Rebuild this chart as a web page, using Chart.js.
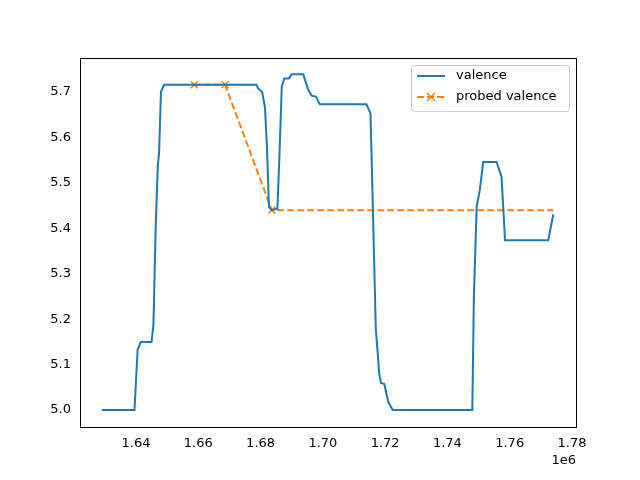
<!DOCTYPE html>
<html>
<head>
<meta charset="UTF-8">
<script src="https://cdn.jsdelivr.net/npm/chart.js"></script>
<style>
  body { margin: 0; background: white; }
</style>
</head>
<body>
<canvas id="c" width="640" height="480"></canvas>
<script>
// valence curve (x in units of 1e6)
const valenceX = [1.629, 1.6395, 1.6405, 1.6415, 1.645, 1.6456, 1.6463, 1.647, 1.6474, 1.648, 1.649,
  1.6787, 1.6792, 1.6805, 1.6814, 1.682, 1.6827, 1.6836, 1.6854, 1.686, 1.6868, 1.6876, 1.6891, 1.690,
  1.6937, 1.6953, 1.6964, 1.6978, 1.699, 1.714, 1.7153, 1.7162, 1.717, 1.7181, 1.7187, 1.7197, 1.721,
  1.7224, 1.748, 1.7485, 1.7494, 1.7504, 1.7515, 1.7558, 1.7574, 1.7585, 1.7724, 1.774];
const valenceY = [5.0, 5.0, 5.132, 5.15, 5.15, 5.19, 5.40, 5.54, 5.566, 5.70, 5.716,
  5.716, 5.708, 5.70, 5.667, 5.587, 5.447, 5.44, 5.443, 5.55, 5.712, 5.73, 5.73, 5.739,
  5.739, 5.705, 5.692, 5.69, 5.673, 5.673, 5.653, 5.404, 5.18, 5.08, 5.059, 5.058, 5.018,
  5.0, 5.0, 5.25, 5.447, 5.484, 5.546, 5.546, 5.513, 5.374, 5.374, 5.431];
const probedX = [1.6587, 1.6686, 1.6836, 1.774];
const probedY = [5.716, 5.716, 5.44, 5.44];
const xTicks = [1.64, 1.66, 1.68, 1.70, 1.72, 1.74, 1.76, 1.78];
const yTicks = [5.0, 5.1, 5.2, 5.3, 5.4, 5.5, 5.6, 5.7];

const font = { family: "DejaVu Sans", size: 13 };

const extras = {
  id: "extras",
  afterDraw(chart) {
    const ctx = chart.ctx;
    const a = chart.chartArea;
    ctx.save();
    // full axes frame
    ctx.strokeStyle = "#000";
    ctx.lineWidth = 1;
    ctx.strokeRect(Math.round(a.left) + 0.5, Math.round(a.top) + 0.5,
      Math.round(a.right - a.left), Math.round(a.bottom - a.top));
    ctx.font = "13px DejaVu Sans";
    ctx.fillStyle = "#000";
    ctx.textAlign = "right";
    ctx.textBaseline = "top";
    ctx.fillText("1e6", a.right, 454);
    // legend
    const lx = 411, ly = 65, lw = 158, lh = 46;
    ctx.fillStyle = "rgba(255,255,255,0.8)";
    ctx.strokeStyle = "#ccc";
    ctx.beginPath();
    ctx.roundRect(lx + 0.5, ly + 0.5, lw, lh, 3);
    ctx.fill(); ctx.stroke();
    ctx.lineWidth = 2;
    ctx.strokeStyle = "#1f77b4";
    ctx.beginPath(); ctx.moveTo(417, 76); ctx.lineTo(445, 76); ctx.stroke();
    ctx.strokeStyle = "#ff7f0e";
    ctx.setLineDash([7, 3]);
    ctx.beginPath(); ctx.moveTo(417, 97); ctx.lineTo(445, 97); ctx.stroke();
    ctx.setLineDash([]);
    ctx.lineWidth = 1.5;
    ctx.beginPath();
    ctx.moveTo(427, 93); ctx.lineTo(435, 101); ctx.moveTo(435, 93); ctx.lineTo(427, 101);
    ctx.stroke();
    ctx.fillStyle = "#000";
    ctx.textAlign = "left";
    ctx.textBaseline = "middle";
    ctx.fillText("valence", 456, 76);
    ctx.fillText("probed valence", 456, 97);
    ctx.restore();
  }
};

new Chart(document.getElementById("c"), {
  type: "line",
  data: {
    datasets: [
      {
        label: "valence",
        data: valenceX.map((x, i) => ({ x: x, y: valenceY[i] })),
        borderColor: "#1f77b4", borderWidth: 2, pointRadius: 0, tension: 0
      },
      {
        label: "probed valence",
        data: probedX.map((x, i) => ({ x: x, y: probedY[i] })),
        borderColor: "#ff7f0e", borderWidth: 2, borderDash: [7, 3],
        pointStyle: "crossRot", pointRadius: [5, 5, 5, 0], pointBorderWidth: 1.5,
        pointBorderColor: "#ff7f0e", tension: 0
      }
    ]
  },
  options: {
    responsive: false,
    animation: false,
    layout: { padding: { top: 58, right: 64, left: 0, bottom: 0 } },
    plugins: { legend: { display: false }, tooltip: { enabled: false } },
    scales: {
      x: {
        type: "linear", min: 1.622, max: 1.7813,
        grid: { display: false, drawTicks: true, tickLength: 5, tickColor: "#000" },
        border: { color: "#000" },
        afterBuildTicks: s => { s.ticks = xTicks.map(v => ({ value: v })); },
        afterFit: s => { s.height = 53; },
        ticks: { color: "#000", font: font, maxRotation: 0, padding: 4, callback: v => v.toFixed(2) }
      },
      y: {
        type: "linear", min: 4.9626, max: 5.775,
        grid: { display: false, drawTicks: true, tickLength: 5, tickColor: "#000" },
        border: { color: "#000" },
        afterBuildTicks: s => { s.ticks = yTicks.map(v => ({ value: v })); },
        afterFit: s => { s.width = 80; },
        ticks: { color: "#000", font: font, padding: 4, callback: v => v.toFixed(1) }
      }
    }
  },
  plugins: [extras]
});
</script>
</body>
</html>
